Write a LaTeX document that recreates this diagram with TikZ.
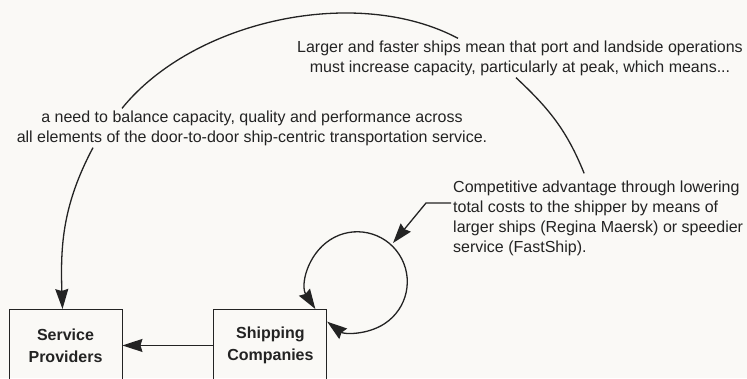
\documentclass[tikz,border=0pt]{standalone}
\usepackage{fontspec}
\setmainfont{Liberation Sans}
\usetikzlibrary{arrows.meta, positioning}
\definecolor{paper}{RGB}{250,249,246}
\definecolor{ink}{RGB}{35,35,35}

\tikzset{
  box/.style={draw=ink, line width=0.9pt, minimum width=113pt, minimum height=72pt, align=center, text=ink, font=\fontsize{16}{22}\selectfont\bfseries},
  note/.style={inner sep=2pt, text=ink, font=\fontsize{16}{20}\selectfont},
  flow/.style={draw=ink, line width=1.3pt},
}

\begin{document}
\begin{tikzpicture}[x=1pt, y=1pt, >={Stealth[length=20pt,width=13pt,inset=2pt]}]
\fill[paper] (0,0) rectangle (747,-378);
\useasboundingbox (0,0) rectangle (747,-378);
\clip (0,0) rectangle (747,-378);
% boxes
\node[box, anchor=north] (serv) at (65.5,-309) {Service\\Providers};
\node[box, right=91pt of serv] (ship) {Shipping\\Companies};
% notes along the loop
\node[note, align=center] (larger) at (520,-58) {Larger and faster ships mean that port and landside operations\\must increase capacity, particularly at peak, which means...};
\node[note, align=center] (need) at (252,-128) {a need to balance capacity, quality and performance across\\all elements of the door-to-door ship-centric transportation service.};
\node[note, align=left, anchor=west] (comp) at (451,-218) {Competitive advantage through lowering\\total costs to the shipper by means of\\larger ships (Regina Maersk) or speedier\\service (FastShip).};
\coordinate (looptip) at (393,-243);

\draw[flow, ->] (ship) -- (serv);
\draw[flow, <->] ([xshift=-12pt]ship.north east) arc[start angle=213, end angle=-127, radius=50pt];
\draw[flow, ->] ([yshift=15pt]comp.west) -- ++(-25,0) -- (looptip);
\draw[flow] ([xshift=-14pt,yshift=5pt]comp.north) to[out=112, in=-43] ([xshift=-4pt]larger.south);
\draw[flow] ([xshift=-62pt]larger.north) to[out=152, in=51, looseness=0.85] ([xshift=-130pt]need.north);
\draw[flow, ->] ([xshift=-159pt]need.south) to[out=-118, in=92] ([xshift=-3pt]serv.north);
\end{tikzpicture}
\end{document}
